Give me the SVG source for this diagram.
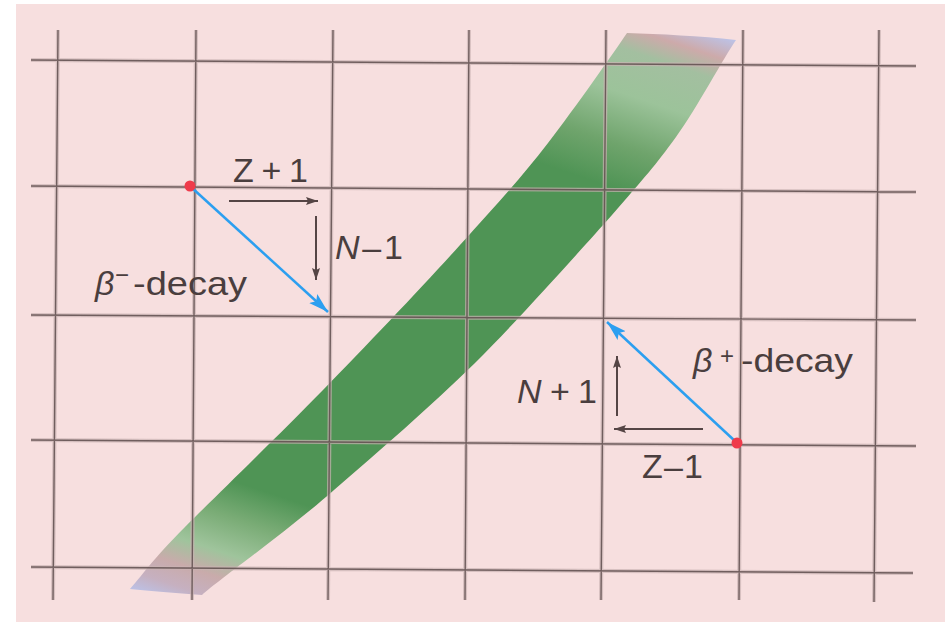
<svg xmlns="http://www.w3.org/2000/svg" xmlns:xlink="http://www.w3.org/1999/xlink" width="945" height="622" viewBox="0 0 945 622">
  <style>
    .halo { fill: none; stroke: #c9b2b2; stroke-width: 4; opacity: 0.7; }
    .core { fill: none; stroke: #5e4c4c; stroke-width: 1.4; opacity: 0.85; }
    .lbl { font-family: "Liberation Sans", Arial, sans-serif; font-size: 34px; fill: #4a3e3e; }
    .it { font-style: italic; }
    .sup { font-size: 24px; }
    .blue { stroke: #2c9ff0; stroke-width: 2.5; fill: none; }
    .dark { stroke: #554545; stroke-width: 2; fill: none; }
    .dot { fill: #ef3b4b; }
  </style>
  <defs>
    <linearGradient id="bandGrad" gradientUnits="userSpaceOnUse" x1="130" y1="589" x2="355" y2="-86">
      <stop offset="0" stop-color="#bcc1e6"/>
      <stop offset="0.025" stop-color="#c6b0c0"/>
      <stop offset="0.055" stop-color="#c9abab"/>
      <stop offset="0.09" stop-color="#9fc49c"/>
      <stop offset="0.14" stop-color="#7aac76"/>
      <stop offset="0.19" stop-color="#4f9455"/>
      <stop offset="0.75" stop-color="#4f9455"/>
      <stop offset="0.81" stop-color="#6fa46c"/>
      <stop offset="0.88" stop-color="#9cc39a"/>
      <stop offset="0.94" stop-color="#a3bfa0"/>
      <stop offset="0.97" stop-color="#cdaaaa"/>
      <stop offset="1" stop-color="#bdc2e6"/>
    </linearGradient>
    <path id="gridPath" d="M58,30 L53,600 M196,30 L192,600 M333,30 L328,600 M469,30 L465,600 M606,30 L601,600 M743,30 L739,600 M879,30 L874,602 M31,60 L916,66 M31,186 L916,192 M31,315 L916,320 M31,440 L916,446 M31,567 L913,573"/>
    <marker id="blueHead" markerUnits="userSpaceOnUse" markerWidth="22" markerHeight="14" refX="20" refY="7" orient="auto">
      <path d="M0,1 L20,7 L0,13 L4,7 z" fill="#2c9ff0"/>
    </marker>
    <marker id="darkHead" markerUnits="userSpaceOnUse" markerWidth="14" markerHeight="10" refX="12" refY="5" orient="auto">
      <path d="M0,1 L12,5 L0,9 L2,5 z" fill="#554545"/>
    </marker>
  </defs>

  <rect x="0" y="0" width="945" height="622" fill="#ffffff"/>
  <rect x="16" y="4" width="929" height="618" fill="#f7dfdf"/>

  <g id="valley">
    <path d="M130,589 C140,578 152,560 185,527 C218,494 277,437 323,390 C369,343 423,286 460,245 C497,204 521,178 548,143 C575,108 614.7,51.3 627,33 C660,34 700,36 736,40 C724.5,56.2 697,108 676,137 C655,166 645,177 612,215 C578,253 521,317 475,363 C428,409 379,451 334,490 C290,529 222,577.5 202,595 C175,593 150,591 130,589 z" fill="url(#bandGrad)"/>
  </g>

  <g id="grid">
    <use xlink:href="#gridPath" class="halo"/>
    <use xlink:href="#gridPath" class="core"/>
  </g>

  <g id="connectors">
    <line class="blue" x1="191" y1="187" x2="328" y2="312" marker-end="url(#blueHead)"/>
    <line class="blue" x1="736" y1="442" x2="607" y2="322" marker-end="url(#blueHead)"/>
    <line class="dark" x1="229" y1="201" x2="318" y2="201" marker-end="url(#darkHead)"/>
    <line class="dark" x1="316" y1="216" x2="316" y2="280" marker-end="url(#darkHead)"/>
    <line class="dark" x1="617" y1="416" x2="617" y2="356" marker-end="url(#darkHead)"/>
    <line class="dark" x1="703" y1="429" x2="614" y2="429" marker-end="url(#darkHead)"/>
  </g>

  <g id="nucleus-start">
    <circle class="dot" cx="190" cy="186" r="5.5"/>
  </g>
  <g id="nucleus-end">
    <circle class="dot" cx="737" cy="443" r="5.5"/>
  </g>

  <g id="labels">
    <text class="lbl" x="233" y="182" textLength="75" lengthAdjust="spacing">Z+1</text>
    <text class="lbl" x="335" y="259" textLength="68" lengthAdjust="spacing"><tspan class="it">N</tspan>–1</text>
    <text class="lbl" x="95" y="295"><tspan class="it">β</tspan><tspan class="sup" x="115" y="283">−</tspan><tspan x="133" y="295" textLength="114" lengthAdjust="spacingAndGlyphs">-decay</tspan></text>
    <text class="lbl" x="693" y="372"><tspan class="it">β</tspan><tspan class="sup" x="720" y="364">+</tspan><tspan x="741" y="372" textLength="112" lengthAdjust="spacingAndGlyphs">-decay</tspan></text>
    <text class="lbl" x="517" y="403" textLength="80" lengthAdjust="spacing"><tspan class="it">N</tspan>+1</text>
    <text class="lbl" x="642" y="478" textLength="61" lengthAdjust="spacing">Z–1</text>
  </g>
</svg>
